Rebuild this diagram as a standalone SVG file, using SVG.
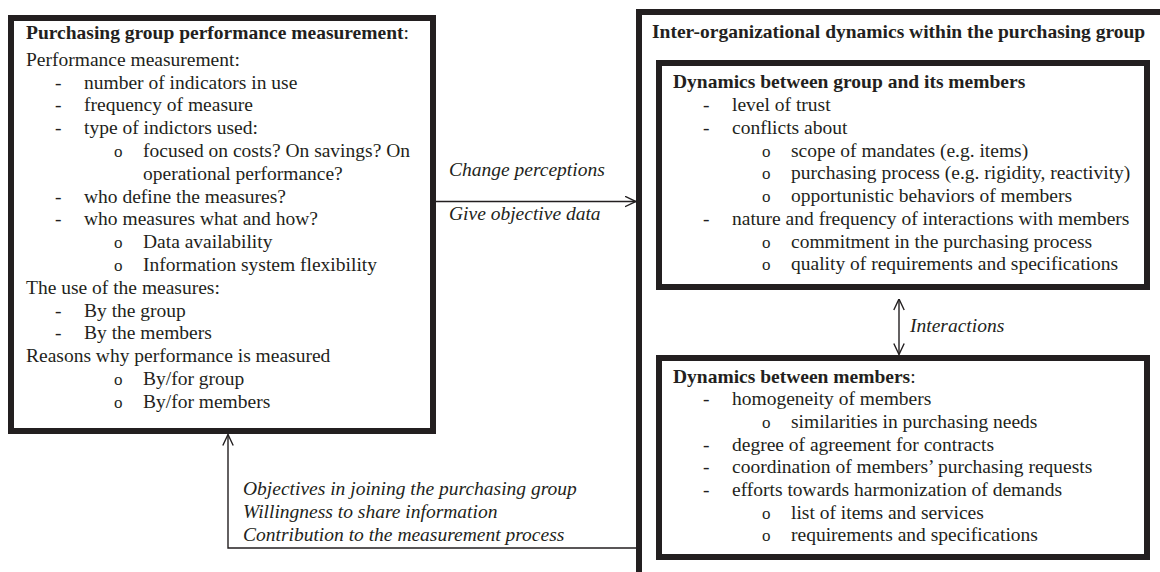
<svg xmlns="http://www.w3.org/2000/svg" width="1160" height="572" viewBox="0 0 1160 572">
<style>
.bg{fill:#ffffff}
.box{fill:none;stroke:#231f20;stroke-width:6}
.t{font-family:"Liberation Serif","Times New Roman",serif;font-size:19.5px;fill:#231f20}
.b{font-weight:bold}
.i{font-style:italic}
.bul{font-family:"Liberation Serif","Times New Roman",serif;font-size:17px}
.conn{fill:none;stroke:#231f20;stroke-width:1.4}
</style>
<defs>
<marker id="arr" viewBox="0 0 12 12" refX="11.5" refY="6" markerWidth="12" markerHeight="12" markerUnits="userSpaceOnUse" orient="auto-start-reverse">
<path d="M0.5,0.8 L11.5,6 L0.5,11.2" fill="none" stroke="#231f20" stroke-width="1.4"/>
</marker>
</defs>
<rect class="bg" x="0" y="0" width="1160" height="572"/>

<g id="perf-measurement">
<rect class="box" x="11" y="18" width="422" height="413"/>
<text class="t" y="39"><tspan x="26" class="b">Purchasing group performance measurement</tspan><tspan>:</tspan></text>
<text class="t" x="26" y="65.7">Performance measurement:</text>
<text class="t" y="88.5"><tspan x="55">-</tspan><tspan x="84">number of indicators in use</tspan></text>
<text class="t" y="111.3"><tspan x="55">-</tspan><tspan x="84">frequency of measure</tspan></text>
<text class="t" y="134.1"><tspan x="55">-</tspan><tspan x="84">type of indictors used:</tspan></text>
<text class="t" y="156.9"><tspan x="114" class="bul">o</tspan><tspan x="143">focused on costs? On savings? On</tspan></text>
<text class="t" x="143" y="179.7">operational performance?</text>
<text class="t" y="202.5"><tspan x="55">-</tspan><tspan x="84">who define the measures?</tspan></text>
<text class="t" y="225.3"><tspan x="55">-</tspan><tspan x="84">who measures what and how?</tspan></text>
<text class="t" y="248.1"><tspan x="114" class="bul">o</tspan><tspan x="143">Data availability</tspan></text>
<text class="t" y="270.9"><tspan x="114" class="bul">o</tspan><tspan x="143">Information system flexibility</tspan></text>
<text class="t" x="26" y="293.7">The use of the measures:</text>
<text class="t" y="316.5"><tspan x="55">-</tspan><tspan x="84">By the group</tspan></text>
<text class="t" y="339.3"><tspan x="55">-</tspan><tspan x="84">By the members</tspan></text>
<text class="t" x="26" y="362.1">Reasons why performance is measured</text>
<text class="t" y="384.9"><tspan x="114" class="bul">o</tspan><tspan x="143">By/for group</tspan></text>
<text class="t" y="407.7"><tspan x="114" class="bul">o</tspan><tspan x="143">By/for members</tspan></text>
</g>

<g id="inter-org-dynamics">
<rect class="box" x="639" y="12" width="600" height="620"/>
<text class="t b" x="652" y="38.3">Inter-organizational dynamics within the purchasing group</text>
</g>

<g id="group-members">
<rect class="box" x="659" y="63" width="488" height="224"/>
<text class="t b" x="673" y="88.3">Dynamics between group and its members</text>
<text class="t" y="111"><tspan x="703">-</tspan><tspan x="732">level of trust</tspan></text>
<text class="t" y="133.8"><tspan x="703">-</tspan><tspan x="732">conflicts about</tspan></text>
<text class="t" y="156.5"><tspan x="762" class="bul">o</tspan><tspan x="791">scope of mandates (e.g. items)</tspan></text>
<text class="t" y="179.3"><tspan x="762" class="bul">o</tspan><tspan x="791">purchasing process (e.g. rigidity, reactivity)</tspan></text>
<text class="t" y="202"><tspan x="762" class="bul">o</tspan><tspan x="791">opportunistic behaviors of members</tspan></text>
<text class="t" y="224.8"><tspan x="703">-</tspan><tspan x="732">nature and frequency of interactions with members</tspan></text>
<text class="t" y="247.5"><tspan x="762" class="bul">o</tspan><tspan x="791">commitment in the purchasing process</tspan></text>
<text class="t" y="270.3"><tspan x="762" class="bul">o</tspan><tspan x="791">quality of requirements and specifications</tspan></text>
</g>

<g id="between-members">
<rect class="box" x="659" y="358" width="488" height="199"/>
<text class="t" y="382.5"><tspan x="673" class="b">Dynamics between members</tspan><tspan>:</tspan></text>
<text class="t" y="405.2"><tspan x="703">-</tspan><tspan x="732">homogeneity of members</tspan></text>
<text class="t" y="427.9"><tspan x="762" class="bul">o</tspan><tspan x="791">similarities in purchasing needs</tspan></text>
<text class="t" y="450.6"><tspan x="703">-</tspan><tspan x="732">degree of agreement for contracts</tspan></text>
<text class="t" y="473.3"><tspan x="703">-</tspan><tspan x="732">coordination of members’ purchasing requests</tspan></text>
<text class="t" y="496"><tspan x="703">-</tspan><tspan x="732">efforts towards harmonization of demands</tspan></text>
<text class="t" y="518.7"><tspan x="762" class="bul">o</tspan><tspan x="791">list of items and services</tspan></text>
<text class="t" y="541.4"><tspan x="762" class="bul">o</tspan><tspan x="791">requirements and specifications</tspan></text>
</g>

<g id="connectors">
<path class="conn" d="M436,201.5 H636" marker-end="url(#arr)"/>
<text class="t i" x="449" y="176">Change perceptions</text>
<text class="t i" x="449" y="220">Give objective data</text>
<path class="conn" d="M899,299 V354.5" marker-start="url(#arr)" marker-end="url(#arr)"/>
<text class="t i" x="910" y="332">Interactions</text>
<path class="conn" d="M636,548 H228 V434.5" marker-end="url(#arr)"/>
<text class="t i" x="243" y="495">Objectives in joining the purchasing group</text>
<text class="t i" x="243" y="518">Willingness to share information</text>
<text class="t i" x="243" y="541">Contribution to the measurement process</text>
</g>
</svg>
